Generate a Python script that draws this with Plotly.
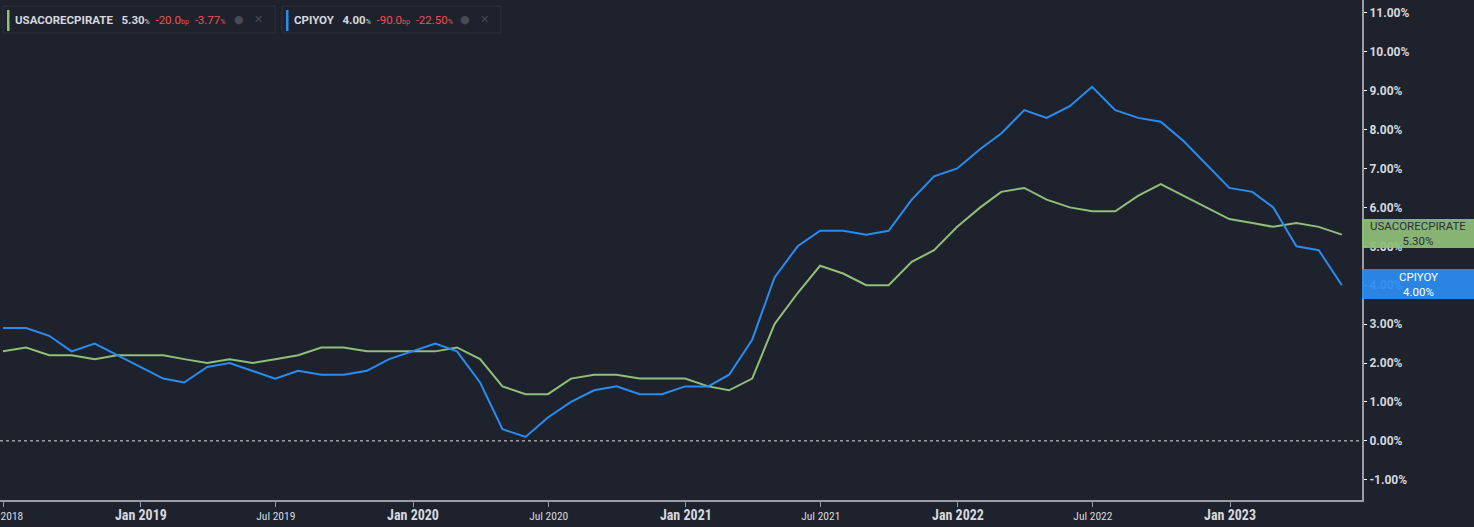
import plotly.graph_objects as go
import pandas as pd

# ---- data (monthly, Jun 2018 - May 2023, % YoY) ----
months = pd.date_range("2018-06-30", periods=60, freq="ME")

core_cpi = [2.3, 2.4, 2.2, 2.2, 2.1, 2.2, 2.2,
            2.2, 2.1, 2.0, 2.1, 2.0, 2.1, 2.2, 2.4, 2.4, 2.3, 2.3, 2.3,
            2.3, 2.4, 2.1, 1.4, 1.2, 1.2, 1.6, 1.7, 1.7, 1.6, 1.6, 1.6,
            1.4, 1.3, 1.6, 3.0, 3.8, 4.5, 4.3, 4.0, 4.0, 4.6, 4.9, 5.5,
            6.0, 6.4, 6.5, 6.2, 6.0, 5.9, 5.9, 6.3, 6.6, 6.3, 6.0, 5.7,
            5.6, 5.5, 5.6, 5.5, 5.3]

cpi_yoy = [2.9, 2.9, 2.7, 2.3, 2.5, 2.2, 1.9,
           1.6, 1.5, 1.9, 2.0, 1.8, 1.6, 1.8, 1.7, 1.7, 1.8, 2.1, 2.3,
           2.5, 2.3, 1.5, 0.3, 0.1, 0.6, 1.0, 1.3, 1.4, 1.2, 1.2, 1.4,
           1.4, 1.7, 2.6, 4.2, 5.0, 5.4, 5.4, 5.3, 5.4, 6.2, 6.8, 7.0,
           7.5, 7.9, 8.5, 8.3, 8.6, 9.1, 8.5, 8.3, 8.2, 7.7, 7.1, 6.5,
           6.4, 6.0, 5.0, 4.9, 4.0]

series_names = ["USACORECPIRATE", "CPIYOY"]
last_values = ["5.30", "4.00"]
change_bp = ["-20.0", "-90.0"]
change_pct = ["-3.77", "-22.50"]

x_tick_dates = ["2018-07-01", "2019-01-01", "2019-07-01", "2020-01-01", "2020-07-01",
                "2021-01-01", "2021-07-01", "2022-01-01", "2022-07-01", "2023-01-01"]
x_tick_labels = ["Jul 2018", "Jan 2019", "Jul 2019", "Jan 2020", "Jul 2020",
                 "Jan 2021", "Jul 2021", "Jan 2022", "Jul 2022", "Jan 2023"]
y_ticks = list(range(-1, 12))

# ---- style ----
BG = "#1e222d"
GREEN = "#8fbf78"
BLUE = "#2a8cf0"
RED = "#f0504f"
TXT = "#d6d8de"
AXIS = "#9a9da6"
W, H = 1474, 527
PLOT_W, PLOT_H = 1362, 500

def px(x):
    return x / PLOT_W

def py(y):
    return 1 - y / PLOT_H

fig = go.Figure()
fig.add_trace(go.Scatter(x=months, y=core_cpi, mode="lines", name=series_names[0],
                         line=dict(color=GREEN, width=2), hoverinfo="x+y"))
fig.add_trace(go.Scatter(x=months, y=cpi_yoy, mode="lines", name=series_names[1],
                         line=dict(color=BLUE, width=2), hoverinfo="x+y"))

def fmt_tick(lbl):
    if lbl.startswith("Jan"):
        return f"<span style='font-size:14px'><b>{lbl}</b></span>"
    return f"<span style='font-size:11.5px'>{lbl}</span>"

fig.update_layout(
    width=W, height=H,
    paper_bgcolor=BG, plot_bgcolor=BG,
    margin=dict(l=0, r=W - PLOT_W, t=0, b=H - PLOT_H, pad=0, autoexpand=False),
    showlegend=False,
    font=dict(family="Roboto, Arial, sans-serif", color=TXT, size=11),
    xaxis=dict(
        range=["2018-06-26", "2023-06-27"],
        tickvals=x_tick_dates,
        ticktext=[fmt_tick(t) for t in x_tick_labels],
        tickfont=dict(family="Roboto Condensed, Liberation Sans Narrow, Arial Narrow, sans-serif",
                      color=TXT),
        showgrid=False, zeroline=False, automargin=False,
        showline=True, linecolor=AXIS, linewidth=2,
        ticks="outside", ticklen=5, tickcolor=AXIS, tickwidth=1,
        ticklabelstandoff=0, ticklabeloverflow="allow",
    ),
    yaxis=dict(
        side="right",
        range=[-1.52, 11.33],
        tickvals=y_ticks,
        ticktext=[f"<b>{v:.2f}%</b>" for v in y_ticks],
        tickfont=dict(family="Roboto, Arial, sans-serif", size=12, color=TXT),
        showgrid=False, zeroline=False, automargin=False,
        showline=True, linecolor=AXIS, linewidth=2,
        ticks="outside", ticklen=3, tickcolor="#ffffff", tickwidth=1,
    ),
)

# zero dotted line
fig.add_shape(type="line", xref="paper", yref="y", x0=0, x1=1, y0=0, y1=0,
              line=dict(color="rgba(255,255,255,0.85)", width=1, dash="dot"))

# ---- legend boxes (top-left) ----
legend_boxes = [(3, 275), (282, 501)]
colors = [GREEN, BLUE]
for i, (x0, x1) in enumerate(legend_boxes):
    fig.add_shape(type="rect", xref="paper", yref="paper",
                  x0=px(x0), x1=px(x1), y0=py(33), y1=py(6),
                  line=dict(color="#2c303b", width=1), fillcolor=BG, layer="above")
    fig.add_shape(type="rect", xref="paper", yref="paper",
                  x0=px(x0 + 4), x1=px(x0 + 6.5), y0=py(31), y1=py(10),
                  line=dict(width=0), fillcolor=colors[i], layer="above")
    small = "<span style='font-size:7px'>%s</span>"
    txt = (f"<b>{series_names[i]}</b>&nbsp;&nbsp;&nbsp;"
           f"<b>{last_values[i]}</b>{small % '%'}&nbsp;&nbsp;"
           f"<span style='color:{RED}'>{change_bp[i]}{small % 'bp'}&nbsp;&nbsp;"
           f"{change_pct[i]}{small % '%'}</span>")
    fig.add_annotation(xref="paper", yref="paper", x=px(x0 + 10), y=py(19.5),
                       xanchor="left", yanchor="middle", showarrow=False,
                       text=txt, font=dict(family="Roboto, Arial, sans-serif", size=11.5, color=TXT))
    fig.add_annotation(xref="paper", yref="paper", x=px(x1 - 10), y=py(19.5),
                       xanchor="right", yanchor="middle", showarrow=False,
                       text="●&nbsp;&nbsp;&nbsp;✕",
                       font=dict(family="DejaVu Sans, sans-serif", size=11, color="#464a55"))

# ---- right-side last-value labels ----
label_boxes = [(219, 248, GREEN, "#2b2f3a"), (269, 299, BLUE, "#ffffff")]
for i, (y0, y1, fill, tcol) in enumerate(label_boxes):
    fig.add_shape(type="rect", xref="paper", yref="paper",
                  x0=1, x1=px(W), y0=py(y1), y1=py(y0),
                  line=dict(width=0), fillcolor=fill, opacity=0.93, layer="above")
    fig.add_annotation(xref="paper", yref="paper", x=px(1362 + (W - 1362) / 2),
                       y=py((y0 + y1) / 2), xanchor="center", yanchor="middle",
                       showarrow=False, align="center",
                       text=f"{series_names[i]}<br>{last_values[i]}%",
                       font=dict(family="Roboto, Arial, sans-serif", size=11.5, color=tcol))

fig.write_html("out.html",
               config={"displayModeBar": False},
               post_script="document.body.style.margin='0';"
                           "document.body.style.overflow='hidden';"
                           "document.body.style.background='#1e222d';")
